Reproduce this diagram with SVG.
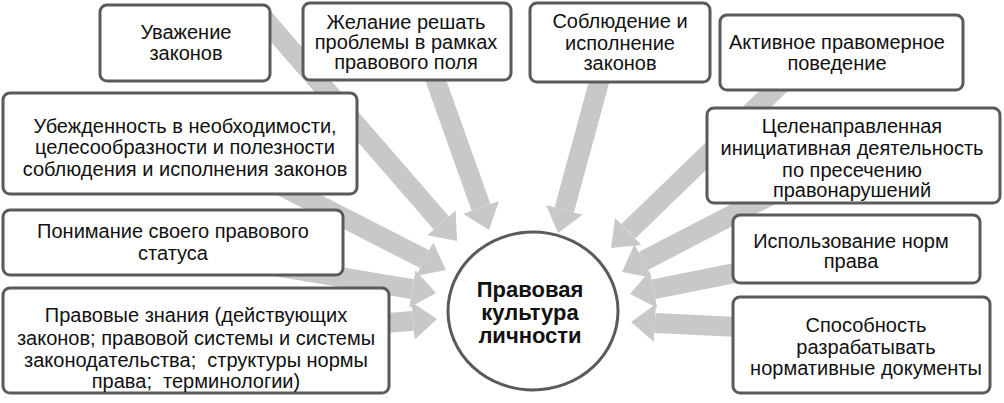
<svg xmlns="http://www.w3.org/2000/svg" width="1004" height="403" viewBox="0 0 1004 403">
<style>
.box{fill:#fff;stroke:#5a5a5a;stroke-width:3}
.t{font-family:"Liberation Sans",Arial,sans-serif;font-size:20px;fill:#111;text-anchor:middle}
.c{font-family:"Liberation Sans",Arial,sans-serif;font-size:22px;font-weight:bold;fill:#111;text-anchor:middle}
.arr{stroke:#c8c8c8;stroke-width:20;fill:none;marker-end:url(#ah)}
</style>
<defs>
<marker id="ah" markerUnits="userSpaceOnUse" markerWidth="26" markerHeight="40" viewBox="0 -20 26 40" refX="0" refY="0" orient="auto">
<path d="M0,-19 L24,0 L0,19 Z" fill="#c8c8c8"/>
</marker>
</defs>
<rect width="1004" height="403" fill="#fff"/>
<g id="connectors">
<line class="arr" x1="260" y1="14" x2="441.3" y2="222.9"/>
<line class="arr" x1="425" y1="50" x2="481" y2="207.4"/>
<line class="arr" x1="250" y1="170" x2="424.6" y2="259.1"/>
<line class="arr" x1="250" y1="262" x2="412.3" y2="289.1"/>
<line class="arr" x1="300" y1="330" x2="413.1" y2="320.9"/>
<line class="arr" x1="605" y1="60" x2="564.3" y2="209.8"/>
<line class="arr" x1="790" y1="75" x2="628.3" y2="231.3"/>
<line class="arr" x1="800" y1="180" x2="643.3" y2="261"/>
<line class="arr" x1="800" y1="260" x2="653.5" y2="289.3"/>
<line class="arr" x1="800" y1="330" x2="655" y2="323.1"/>
</g>
<g id="n1">
<rect class="box" x="100" y="5" width="170" height="76" rx="7"/>
<text class="t" x="186" y="39">Уважение</text>
<text class="t" x="186" y="60">законов</text>
</g>
<g id="n2">
<rect class="box" x="303" y="3" width="208" height="77" rx="7"/>
<text class="t" x="406" y="29">Желание решать</text>
<text class="t" x="406" y="49">проблемы в рамках</text>
<text class="t" x="406" y="69">правового поля</text>
</g>
<g id="n3">
<rect class="box" x="3" y="93" width="354" height="101" rx="7"/>
<text class="t" x="185" y="133">Убежденность в необходимости,</text>
<text class="t" x="185" y="154">целесообразности и полезности</text>
<text class="t" x="185" y="176">соблюдения и исполнения законов</text>
</g>
<g id="n4">
<rect class="box" x="3" y="210" width="340" height="65" rx="7"/>
<text class="t" x="173" y="238">Понимание своего правового</text>
<text class="t" x="173" y="260">статуса</text>
</g>
<g id="n5">
<rect class="box" x="3" y="288" width="386" height="105" rx="7"/>
<text class="t" x="196" y="322">Правовые знания (действующих</text>
<text class="t" x="196" y="345">законов; правовой системы и системы</text>
<text class="t" x="196" y="367" xml:space="preserve">законодательства;  структуры нормы</text>
<text class="t" x="196" y="388" xml:space="preserve">права;  терминологии)</text>
</g>
<g id="n6">
<rect class="box" x="530" y="3" width="180" height="79" rx="7"/>
<text class="t" x="620" y="28">Соблюдение и</text>
<text class="t" x="620" y="50">исполнение</text>
<text class="t" x="620" y="70">законов</text>
</g>
<g id="n7">
<rect class="box" x="720" y="15" width="243" height="75" rx="7"/>
<text class="t" x="837" y="49">Активное правомерное</text>
<text class="t" x="837" y="70">поведение</text>
</g>
<g id="n8">
<rect class="box" x="707" y="108" width="293" height="95" rx="7"/>
<text class="t" x="852" y="133">Целенаправленная</text>
<text class="t" x="852" y="155">инициативная деятельность</text>
<text class="t" x="852" y="177">по пресечению</text>
<text class="t" x="852" y="197">правонарушений</text>
</g>
<g id="n9">
<rect class="box" x="733" y="215" width="247" height="68" rx="7"/>
<text class="t" x="851" y="248">Использование норм</text>
<text class="t" x="851" y="268">права</text>
</g>
<g id="n10">
<rect class="box" x="733" y="297" width="257" height="96" rx="7"/>
<text class="t" x="866" y="332">Способность</text>
<text class="t" x="866" y="354">разрабатывать</text>
<text class="t" x="866" y="375">нормативные документы</text>
</g>
<g id="center">
<ellipse cx="533" cy="311" rx="85" ry="79" fill="#fff" stroke="#5a5a5a" stroke-width="3"/>
<text class="c" x="530" y="297">Правовая</text>
<text class="c" x="530" y="320">культура</text>
<text class="c" x="530" y="343">личности</text>
</g>
</svg>
